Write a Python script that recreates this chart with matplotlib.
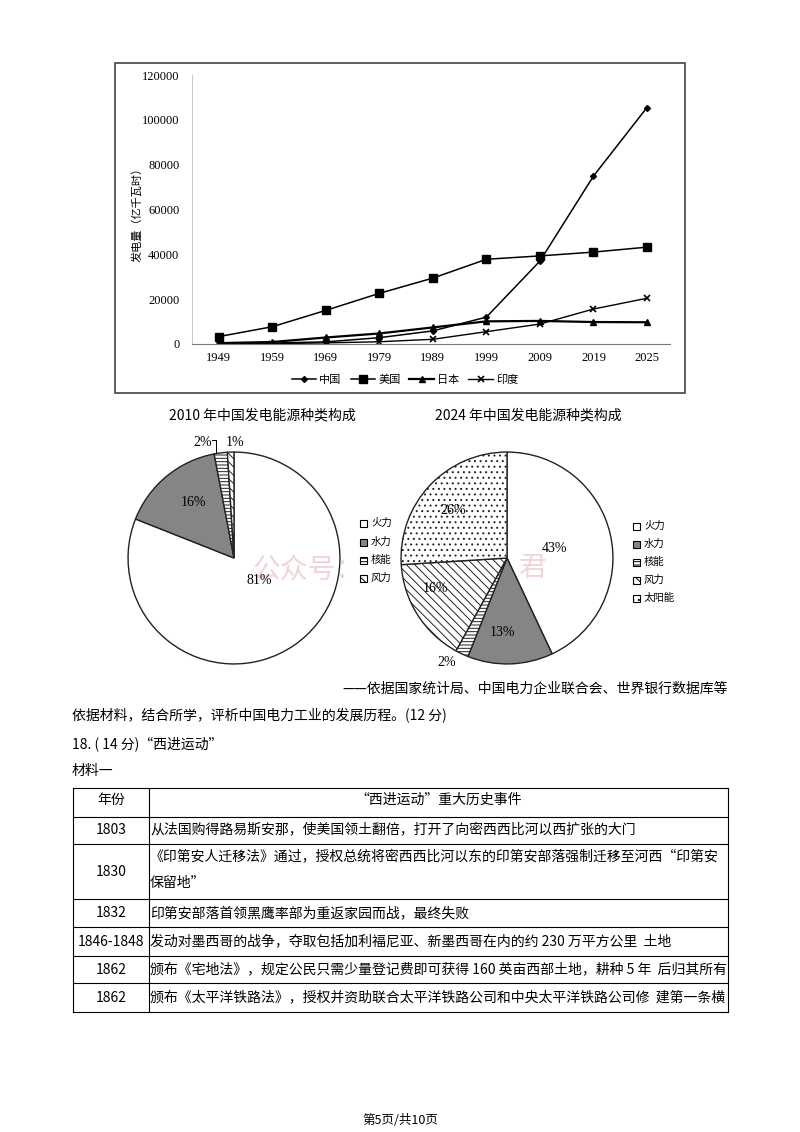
import numpy as np
import matplotlib
matplotlib.use("Agg")
from matplotlib import pyplot as plt
from matplotlib.patches import Rectangle
from matplotlib.lines import Line2D

plt.rcParams['font.family'] = ['Noto Sans CJK SC', 'DejaVu Sans']
plt.rcParams['hatch.linewidth'] = 0.7

# ---- data ----
years = ['1949', '1959', '1969', '1979', '1989', '1999', '2009', '2019', '2025']
china = [43, 420, 940, 2820, 5848, 12000, 37000, 74900, 105500]
usa = [3300, 7700, 15000, 22600, 29400, 37800, 39300, 41000, 43200]
japan = [400, 900, 2900, 4700, 7400, 10100, 10300, 9800, 9700]
india = [50, 150, 500, 1000, 2100, 5500, 8900, 15600, 20400]
y_ticks = [0, 20000, 40000, 60000, 80000, 100000, 120000]

pie_2010_labels = ['火力', '水力', '核能', '风力']
pie_2010_values = [81, 16, 2, 1]
pie_2024_labels = ['火力', '水力', '核能', '风力', '太阳能']
pie_2024_values = [43, 13, 2, 16, 26]

table_years = ['1803', '1830', '1832', '1846-1848', '1862', '1862']
table_events = [
    ['从法国购得路易斯安那，使美国领土翻倍，打开了向密西西比河以西扩张的大门'],
    ['《印第安人迁移法》通过，授权总统将密西西比河以东的印第安部落强制迁移至河西“印第安', '保留地”'],
    ['印第安部落首领黑鹰率部为重返家园而战，最终失败'],
    ['发动对墨西哥的战争，夺取包括加利福尼亚、新墨西哥在内的约 230 万平方公里  土地'],
    ['颁布《宅地法》，规定公民只需少量登记费即可获得 160 英亩西部土地，耕种 5 年  后归其所有'],
    ['颁布《太平洋铁路法》，授权并资助联合太平洋铁路公司和中央太平洋铁路公司修  建第一条横'],
]

W, H = 800, 1132
fig = plt.figure(figsize=(W / 100, H / 100), dpi=100)
fig.patch.set_facecolor('white')


def fx(x):
    return x / W


def fy(y):
    return 1 - y / H


def add_ax(x0, y0, x1, y1):
    return fig.add_axes([fx(x0), fy(y1), (x1 - x0) / W, (y1 - y0) / H])


# ---- line chart ----
fig.add_artist(Rectangle((fx(115), fy(393)), (685 - 115) / W, (393 - 63) / H,
                         transform=fig.transFigure, fill=False, ec='#444444', lw=1.2))
ax = add_ax(192, 75, 670, 344)
x = np.arange(len(years))
ax.plot(x, china, color='black', lw=1.1, marker='D', ms=3, label='中国')
ax.plot(x, usa, color='black', lw=1.1, marker='s', ms=6, label='美国')
ax.plot(x, japan, color='black', lw=1.6, marker='^', ms=5, label='日本')
ax.plot(x, india, color='black', lw=1.0, marker='x', ms=5, mew=1.2, label='印度')
ax.set_xlim(-0.5, 8.43)
ax.set_ylim(0, 120000)
ax.set_yticks(y_ticks)
ax.set_yticklabels([str(v) for v in y_ticks], family='Liberation Serif', fontsize=9)
ax.set_xticks(x)
ax.set_xticklabels(years, family='Liberation Serif', fontsize=9)
ax.tick_params(axis='y', length=0, pad=9)
ax.tick_params(axis='x', length=0, pad=6)
for s in ['top', 'right']:
    ax.spines[s].set_visible(False)
ax.spines['left'].set_color('#bbbbbb')
ax.spines['left'].set_linewidth(0.6)
ax.spines['bottom'].set_color('#777777')
ax.spines['bottom'].set_linewidth(0.8)
fig.text(fx(137), fy(212), '发电量（亿千瓦时）', rotation=90, fontsize=8,
         ha='center', va='center')
fig.legend(*ax.get_legend_handles_labels(), loc='center', ncol=4,
           bbox_to_anchor=(fx(405), fy(380)), frameon=False, fontsize=8,
           handlelength=2.2, handletextpad=0.3, columnspacing=0.8)

# ---- pies ----
fig.text(fx(262), fy(415), '2010 年中国发电能源种类构成', fontsize=10, ha='center', va='center')
fig.text(fx(528), fy(415), '2024 年中国发电能源种类构成', fontsize=10, ha='center', va='center')

fills = {'火力': ('white', ''), '水力': ('#858585', ''), '核能': ('white', '-----'),
         '风力': ('white', '\\\\\\\\'), '太阳能': ('white', '...')}


def draw_pie(cx, cy, r, labels, values):
    pa = add_ax(cx - r, cy - r, cx + r, cy + r)
    wedges, _ = pa.pie(values, startangle=90, counterclock=False, radius=1,
                       wedgeprops=dict(ec='#222222', lw=1.0))
    for w, lab in zip(wedges, labels):
        fc, h = fills[lab]
        w.set_facecolor(fc)
        w.set_hatch(h)
    pa.set_xlim(-1.01, 1.01)
    pa.set_ylim(-1.01, 1.01)
    pa.set_aspect('equal')
    pa.axis('off')
    return wedges


wl = draw_pie(234, 558, 107, pie_2010_labels, pie_2010_values)
wr = draw_pie(507, 558, 107, pie_2024_labels, pie_2024_values)

# watermark
fig.text(fx(253), fy(570), '公众号：', fontsize=20, color='#e8b0b8', alpha=0.55,
         ha='left', va='center')
fig.text(fx(532), fy(568), '君', fontsize=20, color='#e8b0b8', alpha=0.55,
         ha='center', va='center')

ser = dict(family='Liberation Serif', fontsize=10, ha='center', va='center')
fig.text(fx(193), fy(503), '16%', **ser)
fig.text(fx(259), fy(580), '81%', **ser)
fig.text(fx(203), fy(442), '2%', **ser)
fig.text(fx(235), fy(442), '1%', **ser)
fig.add_artist(Line2D([fx(212), fx(216), fx(216)], [fy(440), fy(440), fy(452)],
                      transform=fig.transFigure, color='black', lw=0.7))
fig.text(fx(453), fy(510), '26%', **ser)
fig.text(fx(555), fy(548), '43%', **ser)
fig.text(fx(435), fy(588), '16%', **ser)
fig.text(fx(502), fy(632), '13%', **ser)
fig.text(fx(447), fy(662), '2%', **ser)


# pie legends
def pie_legend(x0, ys, labels):
    for yy, lab in zip(ys, labels):
        fc, h = fills[lab]
        fig.add_artist(Rectangle((fx(x0 - 3.5), fy(yy + 3.5)), 7 / W, 7 / H,
                                 transform=fig.transFigure, fc=fc, hatch=h,
                                 ec='black', lw=0.8))
        fig.text(fx(x0 + 8), fy(yy), lab, fontsize=7.5, ha='left', va='center')


pie_legend(363, [523, 542, 560, 578], pie_2010_labels)
pie_legend(636, [526, 544, 562, 580, 598], pie_2024_labels)

# ---- text ----
fig.text(fx(728), fy(689), '——依据国家统计局、中国电力企业联合会、世界银行数据库等',
         fontsize=10, ha='right', va='center')
fig.text(fx(72), fy(716), '依据材料，结合所学，评析中国电力工业的发展历程。(12 分)',
         fontsize=10, ha='left', va='center')
fig.text(fx(72), fy(744), '18. ( 14 分)“西进运动”', fontsize=10, ha='left', va='center')
fig.text(fx(72), fy(771), '材料一', fontsize=10, ha='left', va='center')

# ---- table ----
row_edges = [788, 817, 844, 899, 927, 956, 983, 1012]
tx0, tx1, tcol = 73, 728, 149
for yy in row_edges:
    fig.add_artist(Line2D([fx(tx0), fx(tx1)], [fy(yy), fy(yy)],
                          transform=fig.transFigure, color='black', lw=0.8))
for xx in [tx0, tcol, tx1]:
    fig.add_artist(Line2D([fx(xx), fx(xx)], [fy(row_edges[0]), fy(row_edges[-1])],
                          transform=fig.transFigure, color='black', lw=0.8))

fig.text(fx((tx0 + tcol) / 2), fy(800), '年份', fontsize=10, ha='center', va='center')
fig.text(fx((tcol + tx1) / 2), fy(800), '“西进运动”重大历史事件', fontsize=10,
         ha='center', va='center')
for i, (yr, ev) in enumerate(zip(table_years, table_events)):
    top, bot = row_edges[i + 1], row_edges[i + 2]
    mid = (top + bot) / 2
    fig.text(fx((tx0 + tcol) / 2), fy(mid), yr, fontsize=10, ha='center', va='center')
    if len(ev) == 1:
        fig.text(fx(tcol + 1), fy(mid), ev[0], fontsize=10, ha='left', va='center')
    else:
        fig.text(fx(tcol + 1), fy(top + 13), ev[0], fontsize=10, ha='left', va='center')
        fig.text(fx(tcol + 1), fy(top + 39), ev[1], fontsize=10, ha='left', va='center')

fig.text(fx(400), fy(1120), '第5页/共10页', fontsize=9, ha='center', va='center')

fig.savefig('out.png', dpi=100, facecolor='white')
